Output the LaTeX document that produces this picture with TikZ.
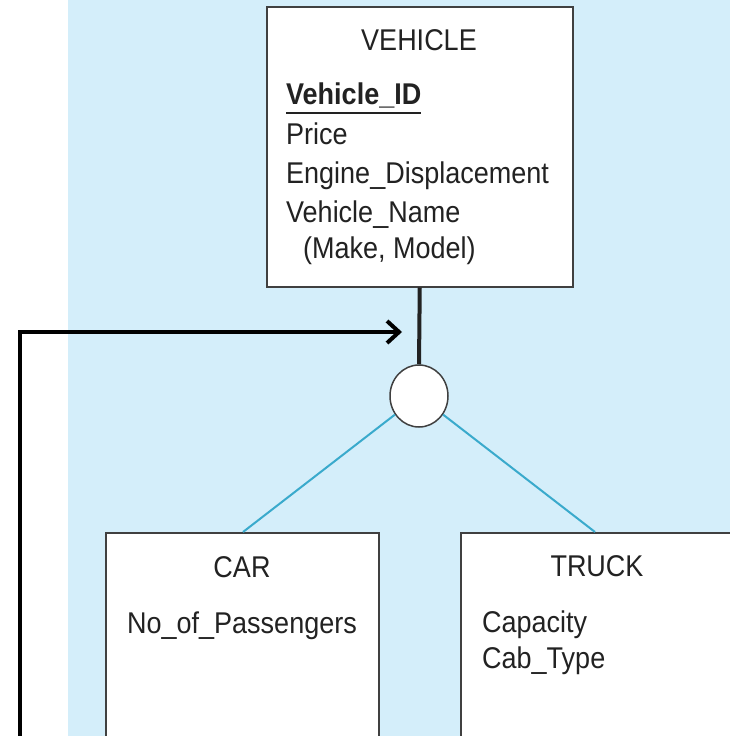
\documentclass[tikz,border=0pt]{standalone}
\usepackage{fontspec}
\setmainfont{Liberation Sans}
\newfontfamily\dfont[FakeStretch=0.9]{Liberation Sans}
\usetikzlibrary{arrows.meta,shapes.geometric}
\definecolor{bgblue}{RGB}{212,238,250}
\definecolor{linkblue}{RGB}{58,170,204}
\definecolor{boxline}{RGB}{64,64,64}
\definecolor{txtcol}{RGB}{34,34,34}
\begin{document}
\begin{tikzpicture}[x=1pt,y=-1pt,
  entbox/.style={draw=boxline,line width=1.5pt,fill=white,rectangle,anchor=north west,inner sep=0pt},
  txt/.style={font=\dfont\fontsize{30}{36}\selectfont,inner sep=0pt,text=txtcol},
  btxt/.style={font=\dfont\bfseries\fontsize{30}{36}\selectfont,inner sep=0pt,text=txtcol},
  isa/.style={draw=boxline,line width=1.5pt,fill=white,ellipse,minimum width=58pt,minimum height=62pt,inner sep=0pt},
  link/.style={draw=linkblue,line width=2pt},
  mainlink/.style={draw=txtcol,line width=4pt},
  pointer/.style={draw=black,line width=4pt,-{Straight Barb[length=12pt,width=22pt]}}
]
\useasboundingbox (0,0) rectangle (730,736);
\fill[bgblue] (68,0) rectangle (730,736);

% supertype
\node[entbox,minimum width=306pt,minimum height=280pt] (veh) at (266,6) {};
\node[txt,anchor=base] (vehT) at (419,50) {VEHICLE};
\node[btxt,anchor=base west] (vid) at (286,104) {Vehicle\_ID};
\draw[line width=1.5pt,txtcol] ([yshift=-9pt]vid.base west) -- ([yshift=-9pt]vid.base east);
\node[txt,anchor=base west] (price) at (286,144) {Price};
\node[txt,anchor=base west] (eng) at (286,183) {Engine\_Displacement};
\node[txt,anchor=base west] (vname) at (286,222) {Vehicle\_Name};
\node[txt,anchor=base west] (mm) at (303,258) {(Make, Model)};

% subtypes
\node[entbox,minimum width=273pt,minimum height=220pt] (car) at (105,532) {};
\node[entbox,minimum width=290pt,minimum height=220pt] (truck) at (460,532) {};
\node[txt,anchor=base] (carT) at (242,577) {CAR};
\node[txt,anchor=base] (pass) at (242,633) {No\_of\_Passengers};
\node[txt,anchor=base] (truckT) at (597,576) {TRUCK};
\node[txt,anchor=base west] (cap) at (482,632) {Capacity};
\node[txt,anchor=base west] (cab) at (482,668) {Cab\_Type};

% subtype circle and links
\node[isa] (circ) at (419,396) {};
\draw[mainlink] (veh.south) -- (circ.north);
\coordinate (carTop) at (243,532);
\coordinate (truckTop) at (595,532);
\draw[link] (circ) -- (carTop);
\draw[link] (circ) -- (truckTop);

% pointer arrow
\coordinate (arrStart) at (20,745);
\coordinate (arrEnd) at (402,332);
\draw[pointer] (arrStart) |- (arrEnd);
\end{tikzpicture}
\end{document}
